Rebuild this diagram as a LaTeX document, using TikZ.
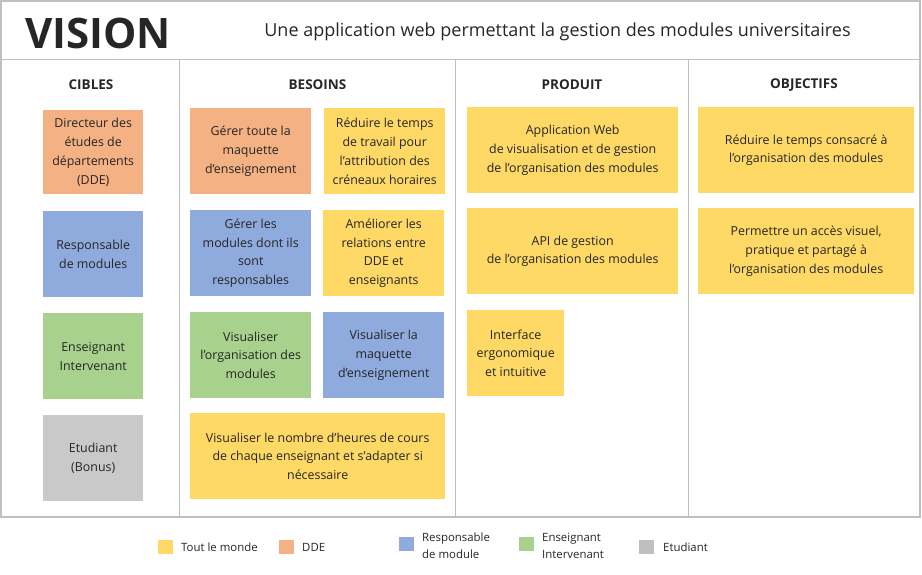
\documentclass[tikz,border=0pt]{standalone}
\usepackage{fontspec}
\setmainfont{Open Sans}
\definecolor{ink}{HTML}{262626}
\definecolor{rule}{HTML}{C0C0C0}
\definecolor{cyellow}{HTML}{FFD966}
\definecolor{corange}{HTML}{F4B183}
\definecolor{cblue}{HTML}{8FAADC}
\definecolor{cgreen}{HTML}{A9D18E}
\definecolor{cgray}{HTML}{C9C9C9}
\definecolor{lgray}{HTML}{BFBFBF}
\begin{document}
\begin{tikzpicture}[x=1pt,y=-1pt,
  frame/.style={draw=rule, line width=1.3pt},
  card/.style={anchor=north west, inner sep=0pt, align=center, text=ink,
    font=\fontsize{12.4}{18.8}\selectfont,
    execute at begin node={\rule{0pt}{13.5pt}}},
  colhead/.style={text=ink, font=\bfseries\fontsize{13.5}{15}\selectfont},
  swatch/.style={anchor=north west, inner sep=0pt, minimum width=15pt, minimum height=14pt},
  legtext/.style={anchor=west, inner sep=0pt, align=left, text=ink,
    font=\fontsize{11.4}{17}\selectfont}]
\useasboundingbox (0,0) rectangle (922,574);

% frame and column rules
\draw[frame] (1,1) rectangle (920,517);
\draw[frame] (1,59.5) -- (920,59.5);
\draw[frame] (179.5,59.5) -- (179.5,517);
\draw[frame] (455.5,59.5) -- (455.5,517);
\draw[frame] (688.5,59.5) -- (688.5,517);

% title row
\node[anchor=west, inner sep=0pt, text=ink, font=\bfseries\fontsize{42}{44}\selectfont] (title) at (25,33) {VISION};
\node[text=ink, inner sep=0pt, font=\fontsize{18}{20}\selectfont] (subtitle) at (557.5,32) {Une application web permettant la gestion des modules universitaires};

% column headings
\node[colhead] (hcibles) at (91,85) {CIBLES};
\node[colhead] (hbesoins) at (317.5,85) {BESOINS};
\node[colhead] (hproduit) at (572,85) {PRODUIT};
\node[colhead] (hobjectifs) at (804,85) {OBJECTIFS};

% targets
\node[card, fill=corange, minimum width=100pt, minimum height=84pt] (dde) at (43,110) {Directeur des\\études de\\départements\\(DDE)};
\node[card, fill=cblue, minimum width=100pt, minimum height=86pt] (resp) at (43,211) {Responsable\\de modules};
\node[card, fill=cgreen, minimum width=100pt, minimum height=86pt] (ens) at (43,313) {Enseignant\\Intervenant};
\node[card, fill=cgray, minimum width=100pt, minimum height=86pt] (etu) at (43,415) {Etudiant\\(Bonus)};

% needs
\node[card, fill=corange, minimum width=121pt, minimum height=86pt] (b1) at (190,108) {Gérer toute la\\maquette\\d’enseignement};
\node[card, fill=cyellow, minimum width=121pt, minimum height=86pt] (b2) at (324,108) {Réduire le temps\\de travail pour\\l’attribution des\\créneaux horaires};
\node[card, fill=cblue, minimum width=121pt, minimum height=86pt] (b3) at (190,210) {Gérer les\\modules dont ils\\sont\\responsables};
\node[card, fill=cyellow, minimum width=121pt, minimum height=86pt] (b4) at (323,210) {Améliorer les\\relations entre\\DDE et\\enseignants};
\node[card, fill=cgreen, minimum width=121pt, minimum height=86pt] (b5) at (190,312) {Visualiser\\l’organisation des\\modules};
\node[card, fill=cblue, minimum width=121pt, minimum height=86pt] (b6) at (323,312) {Visualiser la\\maquette\\d’enseignement};
\node[card, fill=cyellow, minimum width=255pt, minimum height=86pt] (b7) at (190,413) {Visualiser le nombre d’heures de cours\\de chaque enseignant et s’adapter si\\nécessaire};

% product
\node[card, fill=cyellow, minimum width=211pt, minimum height=86pt] (p1) at (467,107) {Application Web\\de visualisation et de gestion\\de l’organisation des modules};
\node[card, fill=cyellow, minimum width=211pt, minimum height=86pt] (p2) at (467,208) {API de gestion\\de l’organisation des modules};
\node[card, fill=cyellow, minimum width=97pt, minimum height=86pt] (p3) at (467,310) {Interface\\ergonomique\\et intuitive};

% goals
\node[card, fill=cyellow, minimum width=216pt, minimum height=86pt] (o1) at (698,107) {Réduire le temps consacré à\\l’organisation des modules};
\node[card, fill=cyellow, minimum width=216pt, minimum height=86pt] (o2) at (698,208) {Permettre un accès visuel,\\pratique et partagé à\\l’organisation des modules};

% legend
\node[swatch, fill=cyellow] (kall) at (158,540) {};
\node[legtext] (tall) at (181,547) {Tout le monde};
\node[swatch, fill=corange] (kdde) at (279,540) {};
\node[legtext] (tdde) at (302,547) {DDE};
\node[swatch, fill=cblue] (kresp) at (399,537) {};
\node[legtext] (tresp) at (422,546) {Responsable\\de module};
\node[swatch, fill=cgreen] (kens) at (519,537) {};
\node[legtext] (tens) at (542,546) {Enseignant\\Intervenant};
\node[swatch, fill=lgray] (ketu) at (639,540) {};
\node[legtext] (tetu) at (663,547) {Etudiant};
\end{tikzpicture}
\end{document}
